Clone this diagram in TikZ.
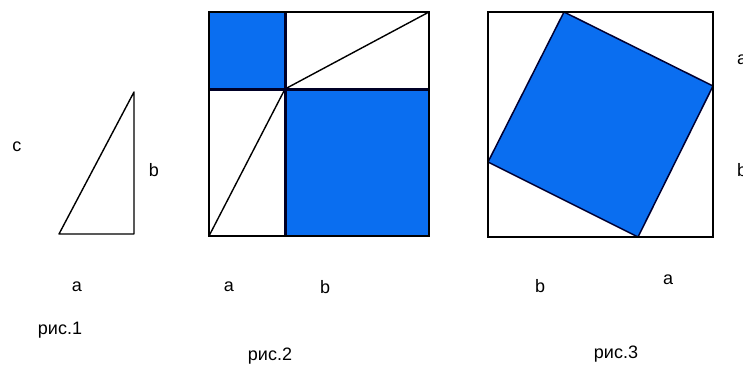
\documentclass[tikz,border=0pt]{standalone}
\usepackage{fontspec}
\setmainfont{Liberation Sans}
\usepackage{xcolor}
\definecolor{sqblue}{RGB}{10,110,240}

\begin{document}
\begin{tikzpicture}[
  x=1pt, y=-1pt,
  every node/.style={font=\fontsize{18}{20}\selectfont, inner sep=0pt},
  edge/.style={draw=black, line width=1.4pt},
  frame/.style={draw=black, line width=1.8pt},
  split/.style={draw=black!85!blue, line width=3pt},
  piece/.style={fill=sqblue},
  tilt/.style={fill=sqblue, draw=black!80!blue, line width=1.5pt, line join=round},
  lbl/.style={anchor=center},
]
\useasboundingbox (0,0) rectangle (743,369);

% ---------- рис.1 : the triangle ----------
\coordinate (t1) at (59,234);
\coordinate (t2) at (134,234);
\coordinate (t3) at (134,92);
\draw[edge, line join=round] (t1) -- (t2) -- (t3) -- cycle;
\node[lbl] (c1) at (17,147) {c};
\node[lbl] (b1) at (154,170) {b};
\node[lbl] (a1) at (77,287) {a};
\node[lbl] (fig1) at (60,330) {рис.1};

% ---------- рис.2 : the split square ----------
\fill[piece] (209,12) rectangle (285,89);
\fill[piece] (285,89) rectangle (429,236);
\draw[edge] (209,236) -- (285,89) -- (429,12);
\draw[split] (285,12) -- (285,236);
\draw[split] (209,89) -- (429,89);
\draw[frame] (209,12) rectangle (429,236);
\node[lbl] (a2) at (229,287) {a};
\node[lbl] (b2) at (325,287) {b};
\node[lbl] (fig2) at (270,356) {рис.2};

% ---------- рис.3 : the square on c ----------
\coordinate (q1) at (564,12);
\coordinate (q2) at (713,86);
\coordinate (q3) at (638,237);
\coordinate (q4) at (488,162);
\draw[tilt] (q1) -- (q2) -- (q3) -- (q4) -- cycle;
\draw[frame] (488,12) rectangle (713,237);
\node[anchor=west] (a3) at (737,60) {a};
\node[anchor=west] (b3) at (737,170) {b};
\node[lbl] (b4) at (540,286) {b};
\node[lbl] (a4) at (668,280) {a};
\node[lbl] (fig3) at (616,354) {рис.3};
\end{tikzpicture}
\end{document}
